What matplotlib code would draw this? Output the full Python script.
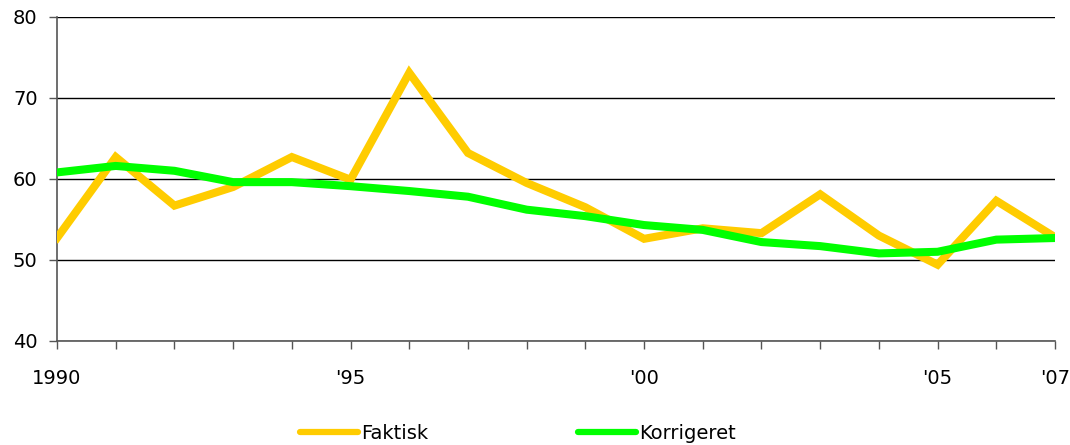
import matplotlib
matplotlib.use("Agg")
import matplotlib.pyplot as plt

years = list(range(1990, 2008))
faktisk = [52.7, 62.7, 56.7, 59.0, 62.7, 59.9, 73.1, 63.2, 59.5, 56.5,
           52.6, 53.9, 53.3, 58.1, 53.0, 49.4, 57.3, 52.8]
korrigeret = [60.8, 61.6, 61.0, 59.6, 59.6, 59.1, 58.5, 57.8, 56.2, 55.4,
              54.3, 53.7, 52.2, 51.7, 50.8, 51.0, 52.5, 52.7]
xtick_pos = [1990, 1995, 2000, 2005, 2007]
xtick_labels = ["1990", "'95", "'00", "'05", "'07"]

plt.rcParams['font.family'] = ['DejaVu Sans']

fig = plt.figure(figsize=(10.7, 4.45), dpi=100)
ax = fig.add_axes([0.0533, 0.234, 0.9327, 0.728])

ax.plot(years, faktisk, color='#FFCC00', lw=5.8, label='Faktisk', solid_joinstyle='miter', zorder=3)
ax.plot(years, korrigeret, color='#00FF00', lw=5.8, label='Korrigeret', solid_joinstyle='miter', zorder=4)

ax.set_xlim(1990, 2007)
ax.set_ylim(40, 80)
ax.set_yticks([40, 50, 60, 70, 80])
ax.set_xticks(years)
ax.set_xticklabels([xtick_labels[xtick_pos.index(y)] if y in xtick_pos else '' for y in years])
ax.yaxis.grid(True, color='black', lw=1)
ax.set_axisbelow(True)

for s in ['top', 'right']:
    ax.spines[s].set_visible(False)
for s in ['left', 'bottom']:
    ax.spines[s].set_color('#555555')
    ax.spines[s].set_linewidth(1.2)
ax.tick_params(axis='both', direction='out', length=6, color='#555555', labelsize=14, width=1)
ax.tick_params(axis='x', pad=14)
ax.tick_params(axis='y', pad=8)

leg = fig.legend(loc='lower center', bbox_to_anchor=(0.484, -0.035), ncol=2, frameon=False,
                 fontsize=14, handlelength=3.0, handletextpad=0.15, columnspacing=7.7)
for line in leg.get_lines():
    line.set_linewidth(4.5)
    line.set_solid_capstyle('round')

fig.savefig('out.png', dpi=100)
